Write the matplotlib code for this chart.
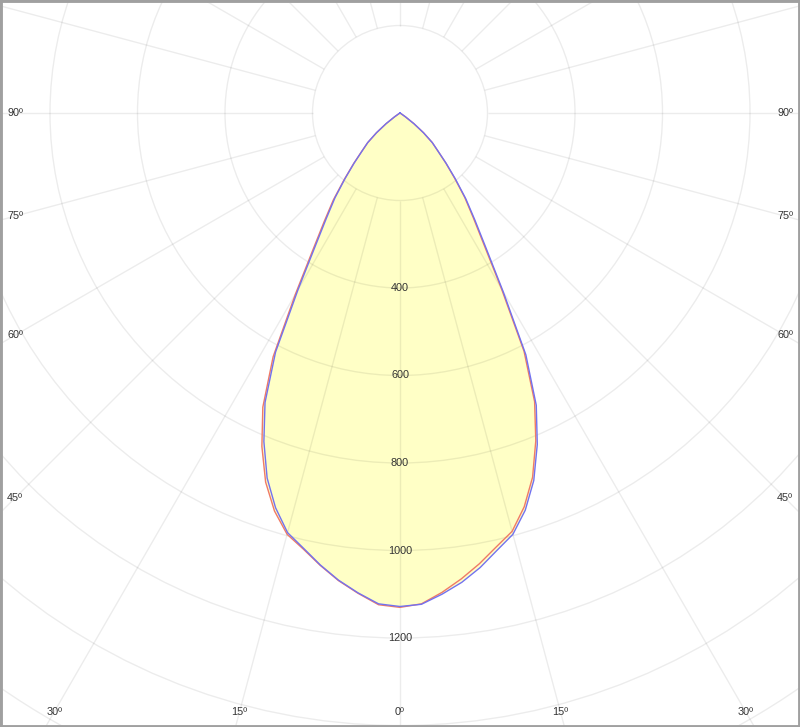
import numpy as np
import matplotlib
matplotlib.use('Agg')
import matplotlib.pyplot as plt
from matplotlib.patches import Circle, Rectangle

# gamma angles (deg from nadir) and luminous intensity (cd) per half plane
angles = [0, 2.5, 5, 7.5, 10, 12.5, 15, 17.5, 20, 22.5, 25, 27.5, 30, 32.5, 35,
          37.5, 40, 42.5, 45, 47.5, 50, 52.5, 55, 57.5, 60, 62.5, 65, 67.5, 70,
          72.5, 75, 77.5, 80, 82.5, 85, 87.5, 90]

red_c0 = [1128, 1123, 1100, 1074, 1046, 1016, 990, 944, 886, 811, 728, 614, 464,
          358, 292, 243, 194, 155, 122, 100, 70, 40, 15, 3, 0,
          0, 0, 0, 0, 0, 0, 0, 0, 0, 0, 0, 0]
red_c180 = [1130, 1125, 1102, 1078, 1050, 1021, 997, 954, 898, 825, 742, 628, 478,
            370, 301, 250, 198, 157, 123, 100, 70, 40, 15, 3, 0,
            0, 0, 0, 0, 0, 0, 0, 0, 0, 0, 0, 0]
blue_c90 = [1128, 1124, 1104, 1082, 1055, 1024, 997, 952, 894, 820, 737, 623, 472,
            366, 298, 247, 197, 156, 122, 100, 70, 40, 15, 3, 0,
            0, 0, 0, 0, 0, 0, 0, 0, 0, 0, 0, 0]
blue_c270 = [1128, 1123, 1101, 1077, 1049, 1019, 993, 946, 888, 813, 730, 616, 466,
             360, 293, 244, 195, 155, 122, 100, 70, 40, 15, 3, 0,
             0, 0, 0, 0, 0, 0, 0, 0, 0, 0, 0, 0]

ring_values = [200, 400, 600, 800, 1000, 1200, 1400, 1600]
ring_labels = [400, 600, 800, 1000, 1200]
side_labels = [45, 60, 75, 90]
bottom_labels = [0, 15, 30]

TXT = '#333333'
FONT = 'Liberation Sans'


def plane_xy(left, right):
    a = np.radians(np.array(angles))
    left = np.array(left, dtype=float)
    right = np.array(right, dtype=float)
    xl = -left * np.sin(a)
    yl = -left * np.cos(a)
    xr = right * np.sin(a)
    yr = -right * np.cos(a)
    x = np.concatenate([xl[::-1], xr[1:]])
    y = np.concatenate([yl[::-1], yr[1:]])
    return x, y


def main():
    scale = 0.4375  # px per cd
    cx, cy = 400, 113
    fig = plt.figure(figsize=(8, 7.27), dpi=100)
    ax = fig.add_axes([0, 0, 1, 1])
    ax.set_xlim(-cx / scale, (800 - cx) / scale)
    ax.set_ylim(-(727 - cy) / scale, cy / scale)
    ax.set_axis_off()

    xr, yr = plane_xy(red_c180, red_c0)
    xb, yb = plane_xy(blue_c270, blue_c90)

    # fill
    ax.fill(xr, yr, color='#ffffc6', lw=0, zorder=1)
    ax.fill(xb, yb, color='#ffffc6', lw=0, zorder=1)

    # grid
    gcol = (0, 0, 0, 0.075)
    for r in ring_values:
        ax.add_patch(Circle((0, 0), r, fill=False, ec=gcol, lw=1.0, zorder=2))
    for a in range(0, 360, 15):
        t = np.radians(a)
        ax.plot([200 * np.sin(t), 2500 * np.sin(t)],
                [-200 * np.cos(t), -2500 * np.cos(t)],
                color=gcol, lw=1.0, zorder=2, solid_capstyle='butt')

    # curves
    ax.plot(xr, yr, color='#f07a66', lw=1.0, zorder=3, solid_joinstyle='round')
    ax.plot(xb, yb, color='#7272f0', lw=1.0, zorder=3, solid_joinstyle='round')

    # ring labels
    for v in ring_labels:
        ax.text(0, -v, str(v), ha='center', va='center', fontsize=7.8,
                color=TXT, family=FONT, zorder=4)

    # angle labels on the frame
    for a in side_labels:
        py = cy + 385 / np.tan(np.radians(a))
        for px in (15, 785):
            ax.text((px - cx) / scale, -(py - cy) / scale, '%dº' % a,
                    ha='center', va='center', fontsize=7.8, color=TXT,
                    family=FONT, zorder=4)
    for a in bottom_labels:
        dx = 599 * np.tan(np.radians(a))
        for px in sorted(set([cx - dx, cx + dx])):
            ax.text((px - cx) / scale, -(712 - cy) / scale, '%dº' % a,
                    ha='center', va='center', fontsize=7.8, color=TXT,
                    family=FONT, zorder=4)

    fig.patches.append(Rectangle((0, 0), 1, 1, transform=fig.transFigure,
                                 fill=False, ec='#a0a0a0', lw=3.5))
    fig.savefig('out.png', dpi=100)


if __name__ == '__main__':
    main()
